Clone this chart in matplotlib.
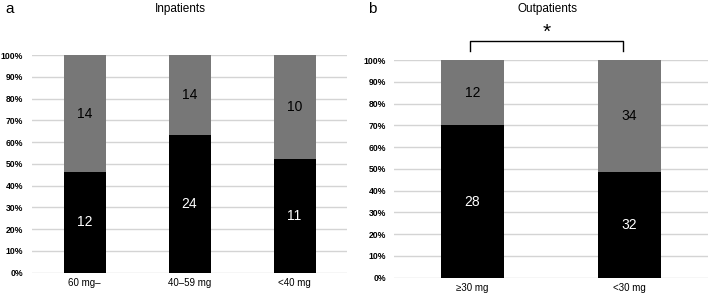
import matplotlib
matplotlib.use("Agg")
import matplotlib.pyplot as plt
import numpy as np

plt.rcParams['font.family'] = ['Liberation Sans', 'DejaVu Sans']

# Data
in_cats = ["60 mg–", "40–59 mg", "<40 mg"]
in_black = [12, 24, 11]
in_gray = [14, 14, 10]

out_cats = ["≥30 mg", "<30 mg"]
out_black = [28, 32]
out_gray = [12, 34]

yticks = [0, 0.1, 0.2, 0.3, 0.4, 0.5, 0.6, 0.7, 0.8, 0.9, 1.0]
ytick_labels = ["0%", "10%", "20%", "30%", "40%", "50%", "60%", "70%", "80%", "90%", "100%"]

BLACK = "#000000"
GRAY = "#777777"
GRID = "#d4d4d4"

fig = plt.figure(figsize=(7.09, 2.95), dpi=100)
ax_a = fig.add_axes([32/709, 22.3/295, 315/709, 217.7/295])
ax_b = fig.add_axes([394/709, 17.3/295, 314/709, 217.7/295])


def draw(ax, cats, black, gray, pad):
    black = np.array(black, float)
    gray = np.array(gray, float)
    tot = black + gray
    fb = black / tot
    fg = gray / tot
    x = np.arange(len(cats))
    ax.bar(x, fb, width=0.4, color=BLACK, zorder=3)
    ax.bar(x, fg, width=0.4, bottom=fb, color=GRAY, zorder=3)
    for xi, b, g, nb, ng in zip(x, fb, fg, black, gray):
        ax.text(xi, b / 2, f"{int(nb)}", color="white", ha="center", va="center",
                fontsize=10, zorder=4)
        ax.text(xi, b + g / 2, f"{int(ng)}", color="black", ha="center", va="center",
                fontsize=10, zorder=4)
    ax.set_xlim(-0.5, len(cats) - 0.5)
    ax.set_ylim(0, 1)
    ax.set_yticks(yticks)
    ax.set_yticklabels(ytick_labels, fontsize=6.2, fontweight="bold")
    ax.set_xticks(x)
    ax.set_xticklabels(cats, fontsize=7)
    ax.tick_params(axis="y", length=0, pad=pad)
    ax.tick_params(axis="x", length=0, pad=4)
    for s in ax.spines.values():
        s.set_visible(False)
    ax.yaxis.grid(True, color=GRID, linewidth=1.0, zorder=0)
    ax.set_axisbelow(True)


draw(ax_a, in_cats, in_black, in_gray, 6.5)
draw(ax_b, out_cats, out_black, out_gray, 5.8)

fig.text(180/709, 1 - 9/295, "Inpatients", ha="center", va="center", fontsize=8.5)
fig.text(548/709, 1 - 9/295, "Outpatients", ha="center", va="center", fontsize=8.5)
fig.text(5/709, 1 - 9/295, "a", ha="left", va="center", fontsize=11)
fig.text(368/709, 1 - 9/295, "b", ha="left", va="center", fontsize=11)

# significance bracket
x0, x1 = -0.016, 0.96
y_low, y_top = 1.041, 1.086
ax_b.plot([x0, x0, x1, x1], [y_low, y_top, y_top, y_low], color="black",
          linewidth=1.0, clip_on=False)
ax_b.text((x0 + x1) / 2, 1.125, "*", ha="center", va="center", fontsize=15)

fig.savefig("out.png", dpi=100)
